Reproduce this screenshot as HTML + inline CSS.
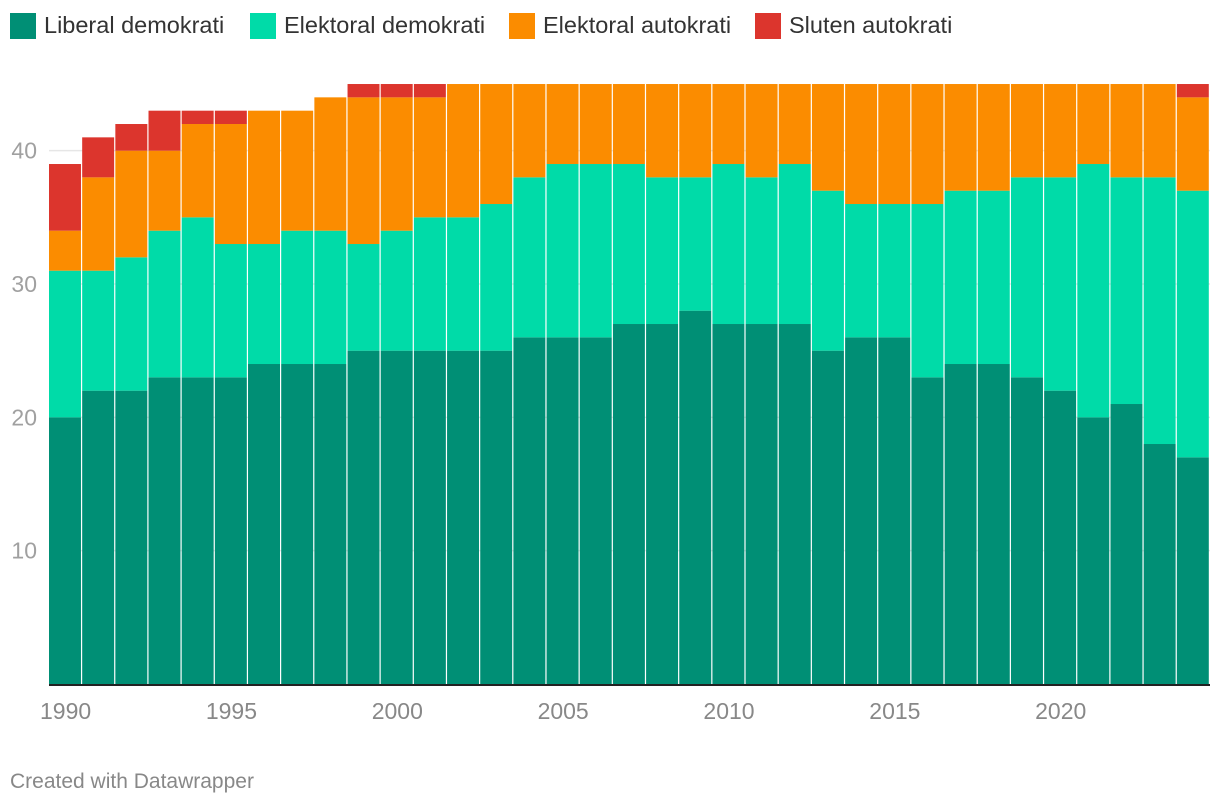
<!DOCTYPE html>
<html><head><meta charset="utf-8"><style>
body{margin:0;background:#fff;font-family:"Liberation Sans",sans-serif;}
#wrap{position:relative;width:1220px;height:808px;overflow:hidden}
.leg{position:absolute;top:12px;font-size:23.5px;color:#333;display:flex;align-items:center}
.leg span.sw{display:inline-block;width:26px;height:26px;margin-right:8px}
#foot{position:absolute;left:10px;top:770px;font-size:21px;color:#888}
</style></head><body>
<div id="wrap">
<div class="leg" style="left:10px"><span class="sw" style="background:#008f75"></span>Liberal demokrati</div>
<div class="leg" style="left:250px"><span class="sw" style="background:#00dba8"></span>Elektoral demokrati</div>
<div class="leg" style="left:509px"><span class="sw" style="background:#fb8c00"></span>Elektoral autokrati</div>
<div class="leg" style="left:755px"><span class="sw" style="background:#dc352d"></span>Sluten autokrati</div>
<svg id="svg" width="1220" height="808" style="position:absolute;left:0;top:0"></svg>
<div id="foot">Created with Datawrapper</div>
</div>
<script>
const years=[1990,1991,1992,1993,1994,1995,1996,1997,1998,1999,2000,2001,2002,2003,2004,2005,2006,2007,2008,2009,2010,2011,2012,2013,2014,2015,2016,2017,2018,2019,2020,2021,2022,2023,2024];
const liberal=[20,22,22,23,23,23,24,24,24,25,25,25,25,25,26,26,26,27,27,28,27,27,27,25,26,26,23,24,24,23,22,20,21,18,17];
const elektoralDem=[11,9,10,11,12,10,9,10,10,8,9,10,10,11,12,13,13,12,11,10,12,11,12,12,10,10,13,13,13,15,16,19,17,20,20];
const elektoralAut=[3,7,8,6,7,9,10,9,10,11,10,9,10,9,7,6,6,6,7,7,6,7,6,8,9,9,9,8,8,7,7,6,7,7,7];
const sluten=[5,3,2,3,1,1,0,0,0,1,1,1,0,0,0,0,0,0,0,0,0,0,0,0,0,0,0,0,0,0,0,0,0,0,1];
const yTicks=[10,20,30,40];
const xTickYears=[1990,1995,2000,2005,2010,2015,2020];
const series=[[liberal,'#008f75','liberal-demokrati'],[elektoralDem,'#00dba8','elektoral-demokrati'],[elektoralAut,'#fb8c00','elektoral-autokrati'],[sluten,'#dc352d','sluten-autokrati']];
const X0=49,X1=1210,Y0=684,PPU=13.333;
const bw=(X1-X0)/years.length;
const y=v=>Y0-v*PPU;
const x=i=>X0+i*bw;
const svg=document.getElementById('svg');
const NS='http://www.w3.org/2000/svg';
function mk(t,a){const e=document.createElementNS(NS,t);for(const k in a)e.setAttribute(k,a[k]);svg.appendChild(e);return e;}
yTicks.forEach(t=>{
 const l=mk('line',{x1:X0,x2:X1,y1:y(t),y2:y(t),stroke:'#e6e6e6','stroke-width':1.5});
 
 
 const tx=mk('text',{x:37,y:y(t)+8,'text-anchor':'end','font-size':23,fill:'#a0a0a0','font-family':'Liberation Sans, sans-serif'});
 tx.textContent=t;
 
 
});
years.forEach((yr,i)=>{
 let acc=0;
 series.forEach(([arr,col,nm])=>{
  const v=arr[i]; if(!v){return;}
  const r=mk('rect',{x:x(i),y:y(acc+v),width:bw-1.2,height:v*PPU,fill:col});
  
  
  acc+=v;
 });
});
const ax=mk('line',{x1:X0,x2:X1,y1:Y0+1,y2:Y0+1,stroke:'#222','stroke-width':2});


xTickYears.forEach(yr=>{
 const i=years.indexOf(yr);
 const tx=mk('text',{x:x(i)+bw/2,y:719,'text-anchor':'middle','font-size':23,fill:'#888','font-family':'Liberation Sans, sans-serif'});
 tx.textContent=yr;
 
 
});
</script>
</body></html>
